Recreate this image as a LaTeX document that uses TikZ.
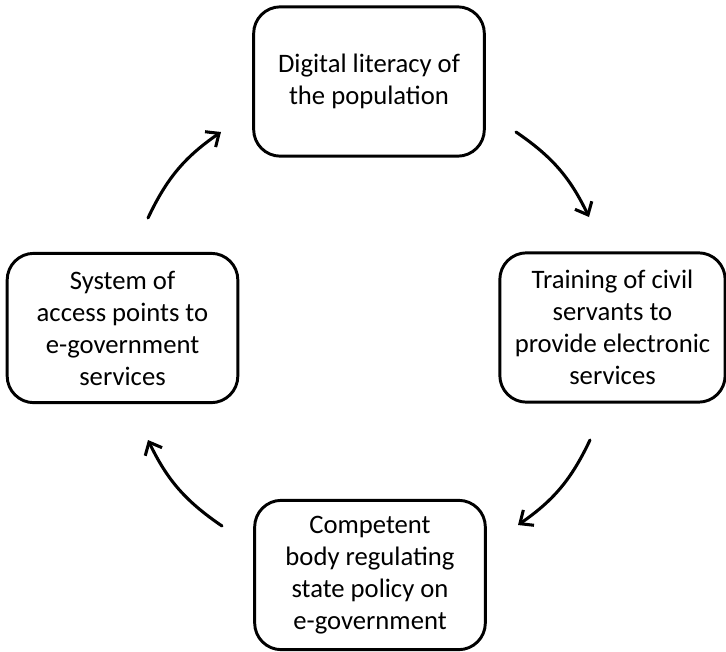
\documentclass[tikz,border=0pt]{standalone}
\usepackage{fontspec}
\setmainfont{Carlito}
\usetikzlibrary{arrows.meta}

\tikzset{
  stage/.style = {draw, line width = 2.2pt, rounded corners = 20pt,
    align = center, font = \fontsize{20}{24}\selectfont,
    minimum height = 112pt, inner sep = 2pt},
  cycarrow/.style = {line width = 2.3pt, line cap = round,
    -{Straight Barb[length = 8pt, width = 14pt, line width = 2.3pt]}}
}

\begin{document}
\begin{tikzpicture}[x = 0.75pt, y = -0.75pt]
      \useasboundingbox (0, 0) rectangle (726, 651);
      \node[stage, minimum width = 173pt] (digital) at (369, 81.5)
        {Digital literacy of\\the population};
      \node[stage, minimum width = 169pt] (training) at (612.5, 327.5)
        {Training of civil\\servants to\\provide electronic\\services};
      \node[stage, minimum width = 173pt] (body) at (370, 575)
        {Competent\\body regulating\\state policy on\\e-government};
      \node[stage, minimum width = 173pt] (access) at (122.5, 328)
        {System of\\access points to\\e-government\\services};
      \coordinate (tr1) at (516, 132);
      \coordinate (tr2) at (589, 217);
      \coordinate (rb1) at (590, 440);
      \coordinate (rb2) at (518, 525);
      \coordinate (bl1) at (222, 526);
      \coordinate (bl2) at (148, 440);
      \coordinate (lt1) at (148, 218);
      \coordinate (lt2) at (221, 132);
      \draw[cycarrow] (tr1) to[bend left = 15] (tr2);
      \draw[cycarrow] (rb1) to[bend left = 15] (rb2);
      \draw[cycarrow] (bl1) to[bend left = 15] (bl2);
      \draw[cycarrow] (lt1) to[bend left = 15] (lt2);
    \end{tikzpicture}
\end{document}
